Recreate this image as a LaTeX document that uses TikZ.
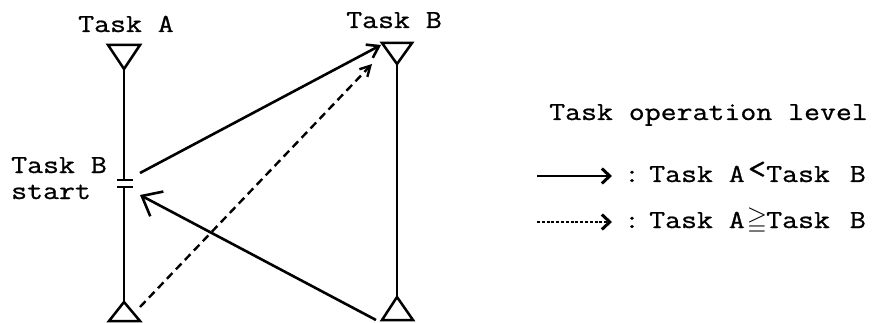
\documentclass[tikz,border=0pt]{standalone}
\usepackage{fontspec}
\usepackage{amssymb}
\usetikzlibrary{arrows.meta}
\newfontfamily\tw{Latin Modern Mono}[FakeStretch=1.19, FakeBold=0.8]
\tikzset{
  lbl/.style={font=\tw\fontsize{26}{30}\selectfont, inner sep=0pt},
  tl/.style={line width=2.5pt},
  tri/.style={line width=2.5pt, line join=miter},
  sarrow/.style={line width=2.6pt, -{Straight Barb[length=11pt,width=15pt]}},
  barrow/.style={line width=2.6pt, -{Straight Barb[length=17pt,width=28pt]}},
  darrow/.style={line width=2.4pt, dash pattern=on 8pt off 5pt, -{Straight Barb[length=10pt,width=11pt]}},
  legs/.style={line width=2.6pt, -{Straight Barb[length=8pt,width=15pt,line width=3pt]}},
  legd/.style={line width=1.8pt, dash pattern=on 3pt off 1.8pt, -{Straight Barb[length=8pt,width=15pt,line width=3pt]}},
}
\begin{document}
\begin{tikzpicture}[x=1pt,y=-1pt]
\useasboundingbox (0,0) rectangle (877,323);
% left time line (Task A)
\coordinate (a1) at (108,45); \coordinate (a2) at (140,45); \coordinate (aTop) at (124,69);
\coordinate (aT1) at (124,180); \coordinate (aT2) at (124,187);
\coordinate (aBot) at (124,302); \coordinate (a3) at (140,321); \coordinate (a4) at (109,321);
\draw[tri] (a1) -- (a2) -- (aTop) -- cycle;
\draw[tl] (aTop) -- (aT1);
\draw[tl] ([xshift=-7pt]aT1) -- ([xshift=9pt]aT1);
\draw[tl] ([xshift=-7pt]aT2) -- ([xshift=9pt]aT2);
\draw[tl] (aT2) -- (aBot);
\draw[tri] (aBot) -- (a3) -- (a4) -- cycle;
% right time line (Task B)
\coordinate (b1) at (382,43); \coordinate (b2) at (412,43); \coordinate (bTop) at (397,64);
\coordinate (bBot) at (397,297); \coordinate (b3) at (413,320); \coordinate (b4) at (382,320);
\draw[tri] (b1) -- (b2) -- (bTop) -- cycle;
\draw[tl] (bTop) -- (bBot);
\draw[tri] (bBot) -- (b3) -- (b4) -- cycle;
% labels
\node[lbl, anchor=base] (ta) at (126,32) {Task A};
\node[lbl, anchor=base] (tb) at (394,28) {Task B};
\node[lbl, anchor=base west] (bs1) at (11,173) {Task B};
\node[lbl, anchor=base west] (bs2) at (11,199) {start};
% arrows
\coordinate (s1a) at (140,173); \coordinate (s1b) at (381,45);
\coordinate (da) at (140,307); \coordinate (db) at (372,64);
\coordinate (s2a) at (376,320); \coordinate (s2b) at (140,195);
\draw[sarrow] (s1a) -- (s1b);
\draw[darrow] (da) -- (db);
\draw[barrow] (s2a) -- (s2b);
% legend
\node[lbl, anchor=base west] (leg) at (549,120) {Task operation level};
\coordinate (l1a) at (537,176); \coordinate (l1b) at (612,176);
\coordinate (l2a) at (537,222); \coordinate (l2b) at (612,222);
\draw[legs] (l1a) -- (l1b);
\draw[legd] (l2a) -- (l2b);
\node[lbl, anchor=base] (c1) at (632,182) {:};
\node[lbl, anchor=base west] (t1) at (649,182) {Task A};
\node[font=\tw\fontsize{30}{30}\selectfont, inner sep=0pt] (lt) at (757,170) {<};
\node[lbl, anchor=base west] (t2) at (766,182) {Task\hspace{4pt} B};
\node[lbl, anchor=base] (c2) at (632,228) {:};
\node[lbl, anchor=base west] (t3) at (649,228) {Task A};
\node[font=\fontsize{26}{26}\selectfont, inner sep=0pt] (ge) at (757,221) {$\geqq$};
\node[lbl, anchor=base west] (t4) at (766,228) {Task\hspace{4pt} B};
\end{tikzpicture}
\end{document}
